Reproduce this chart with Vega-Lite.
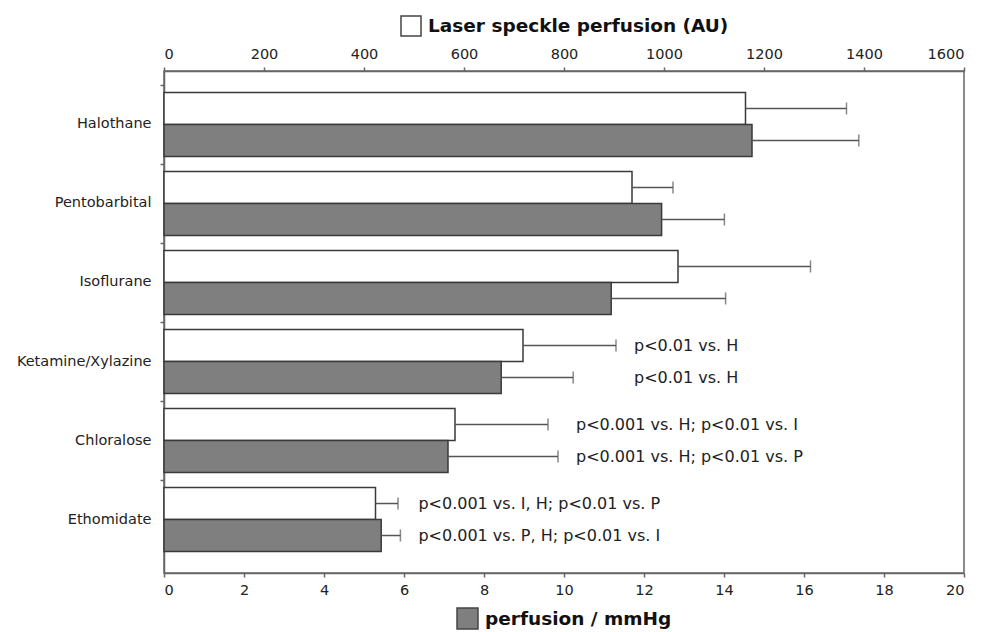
{
  "$schema": "https://vega.github.io/schema/vega-lite/v6.json",
  "width": 800,
  "height": 502,
  "autosize": {"type": "none"},
  "padding": {"left": 164, "top": 71, "right": 32, "bottom": 59},
  "background": "white",
  "config": {
    "font": "DejaVu Sans",
    "view": {"stroke": "#666", "strokeWidth": 1.5},
    "axis": {"domainColor": "#666", "domainWidth": 1.5, "tickColor": "#666", "tickWidth": 1.5, "tickSize": 4, "labelFontSize": 14.5, "labelColor": "#222", "labelFont": "DejaVu Sans", "grid": false, "title": null},
    "legend": {"layout": {"top": {"anchor": "middle"}, "bottom": {"anchor": "middle"}}}
  },
  "data": {
    "values": [
      {"drug": "Halothane", "series": "Laser speckle perfusion (AU)", "value": 1163, "sd": 202, "label": ""},
      {"drug": "Halothane", "series": "perfusion / mmHg", "value": 14.7, "sd": 2.67, "label": ""},
      {"drug": "Pentobarbital", "series": "Laser speckle perfusion (AU)", "value": 936, "sd": 82, "label": ""},
      {"drug": "Pentobarbital", "series": "perfusion / mmHg", "value": 12.44, "sd": 1.57, "label": ""},
      {"drug": "Isoflurane", "series": "Laser speckle perfusion (AU)", "value": 1028, "sd": 265, "label": ""},
      {"drug": "Isoflurane", "series": "perfusion / mmHg", "value": 11.18, "sd": 2.86, "label": ""},
      {"drug": "Ketamine/Xylazine", "series": "Laser speckle perfusion (AU)", "value": 718, "sd": 186, "label": "p<0.01 vs. H"},
      {"drug": "Ketamine/Xylazine", "series": "perfusion / mmHg", "value": 8.43, "sd": 1.8, "label": "p<0.01 vs. H"},
      {"drug": "Chloralose", "series": "Laser speckle perfusion (AU)", "value": 582, "sd": 186, "label": "p<0.001 vs. H; p<0.01 vs. I"},
      {"drug": "Chloralose", "series": "perfusion / mmHg", "value": 7.1, "sd": 2.75, "label": "p<0.001 vs. H; p<0.01 vs. P"},
      {"drug": "Ethomidate", "series": "Laser speckle perfusion (AU)", "value": 423, "sd": 45, "label": "p<0.001 vs. I, H; p<0.01 vs. P"},
      {"drug": "Ethomidate", "series": "perfusion / mmHg", "value": 5.43, "sd": 0.48, "label": "p<0.001 vs. P, H; p<0.01 vs. I"}
    ]
  },
  "transform": [
    {"calculate": "datum.value + datum.sd", "as": "hi"},
    {"calculate": "datum.series == 'perfusion / mmHg' ? datum.hi * 80 : datum.hi", "as": "hiAU"},
    {"joinaggregate": [{"op": "max", "field": "hiAU", "as": "anchor"}], "groupby": ["drug"]}
  ],
  "encoding": {
    "y": {
      "field": "drug", "type": "nominal", "sort": null,
      "scale": {"paddingInner": 0.19, "paddingOuter": 0.272},
      "axis": {"title": null, "bandPosition": -0.117, "labelPadding": 9}
    },
    "yOffset": {
      "field": "series", "type": "nominal",
      "scale": {"domain": ["Laser speckle perfusion (AU)", "perfusion / mmHg"], "paddingInner": 0, "paddingOuter": 0}
    }
  },
  "layer": [
    {
      "layer": [
        {
          "transform": [{"filter": "datum.series == 'Laser speckle perfusion (AU)'"}],
          "mark": {"type": "bar", "stroke": "#3a3a3a", "strokeWidth": 1.5},
          "encoding": {
            "x": {"field": "value", "type": "quantitative", "scale": {"domain": [0, 1600], "nice": false, "zero": true}, "axis": {"orient": "top", "values": [0, 200, 400, 600, 800, 1000, 1200, 1400, 1600], "format": "d", "labelPadding": 6, "title": null}},
            "fill": {"field": "series", "type": "nominal", "scale": {"domain": ["Laser speckle perfusion (AU)"], "range": ["white"]},
              "legend": {"orient": "top", "title": null, "symbolType": "square", "symbolSize": 400, "symbolStrokeColor": "#444", "symbolStrokeWidth": 1.5, "labelFontSize": 18.5, "labelFontWeight": "bold", "labelColor": "#111", "labelLimit": 0, "offset": 7, "labelOffset": 6}}
          }
        },
        {
          "transform": [{"filter": "datum.series == 'Laser speckle perfusion (AU)'"}],
          "mark": {"type": "rule", "color": "#555", "strokeWidth": 1.5},
          "encoding": {
            "x": {"field": "value", "type": "quantitative", "scale": {"domain": [0, 1600], "nice": false, "zero": true}, "axis": {"orient": "top", "values": [0, 200, 400, 600, 800, 1000, 1200, 1400, 1600], "format": "d", "labelPadding": 6, "title": null}},
            "x2": {"field": "hi"}
          }
        },
        {
          "transform": [{"filter": "datum.series == 'Laser speckle perfusion (AU)'"}],
          "mark": {"type": "tick", "color": "#555", "thickness": 1.5, "size": 12, "orient": "vertical"},
          "encoding": {
            "x": {"field": "hi", "type": "quantitative", "scale": {"domain": [0, 1600], "nice": false, "zero": true}, "axis": {"orient": "top", "values": [0, 200, 400, 600, 800, 1000, 1200, 1400, 1600], "format": "d", "labelPadding": 6, "title": null}}
          }
        },
        {
          "transform": [{"filter": "datum.label != ''"}],
          "mark": {"type": "text", "align": "left", "baseline": "middle", "dx": 18, "fontSize": 16, "color": "#222"},
          "encoding": {
            "x": {"field": "anchor", "type": "quantitative", "scale": {"domain": [0, 1600], "nice": false, "zero": true}, "axis": {"orient": "top", "values": [0, 200, 400, 600, 800, 1000, 1200, 1400, 1600], "format": "d", "labelPadding": 6, "title": null}},
            "text": {"field": "label"}
          }
        }
      ]
    },
    {
      "transform": [{"filter": "datum.series == 'perfusion / mmHg'"}],
      "layer": [
        {
          "mark": {"type": "bar", "stroke": "#3a3a3a", "strokeWidth": 1.5},
          "encoding": {
            "x": {"field": "value", "type": "quantitative", "scale": {"domain": [0, 20], "nice": false, "zero": true}, "axis": {"orient": "bottom", "values": [0, 2, 4, 6, 8, 10, 12, 14, 16, 18, 20], "labelPadding": 6, "title": null}},
            "fill": {"field": "series", "type": "nominal", "scale": {"domain": ["perfusion / mmHg"], "range": ["#7f7f7f"]},
              "legend": {"orient": "bottom", "title": null, "symbolType": "square", "symbolSize": 440, "symbolStrokeColor": "#444", "symbolStrokeWidth": 1.5, "labelFontSize": 18.5, "labelFontWeight": "bold", "labelColor": "#111", "labelLimit": 0, "offset": 10, "labelOffset": 6}}
          }
        },
        {
          "mark": {"type": "rule", "color": "#555", "strokeWidth": 1.5},
          "encoding": {
            "x": {"field": "value", "type": "quantitative", "scale": {"domain": [0, 20], "nice": false, "zero": true}, "axis": {"orient": "bottom", "values": [0, 2, 4, 6, 8, 10, 12, 14, 16, 18, 20], "labelPadding": 6, "title": null}},
            "x2": {"field": "hi"}
          }
        },
        {
          "mark": {"type": "tick", "color": "#555", "thickness": 1.5, "size": 12, "orient": "vertical"},
          "encoding": {
            "x": {"field": "hi", "type": "quantitative", "scale": {"domain": [0, 20], "nice": false, "zero": true}, "axis": {"orient": "bottom", "values": [0, 2, 4, 6, 8, 10, 12, 14, 16, 18, 20], "labelPadding": 6, "title": null}}
          }
        }
      ]
    }
  ],
  "resolve": {"scale": {"x": "independent", "fill": "independent"}, "legend": {"fill": "independent"}, "axis": {"x": "independent"}}
}
